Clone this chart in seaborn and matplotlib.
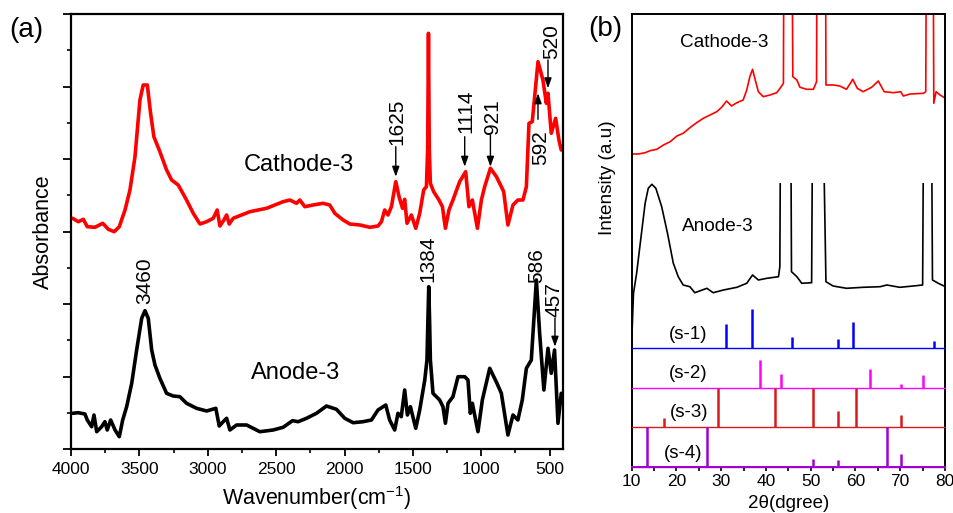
import numpy as np
import pandas as pd
import seaborn as sns
import matplotlib
matplotlib.use("Agg")
import matplotlib.pyplot as plt
from matplotlib.patches import Rectangle
from matplotlib.ticker import MultipleLocator

# ---------------- FTIR data (panel a) ----------------
ftir_cat_wn = [3988, 3947, 3910, 3881, 3825, 3768, 3727, 3684, 3647, 3605, 3569, 3532, 3496, 3472,
               3442, 3418, 3394, 3350, 3301, 3264, 3216, 3155, 3106, 3057, 3008, 2960, 2931, 2911,
               2882, 2862, 2843, 2814, 2692, 2570, 2449, 2400, 2351, 2327, 2290, 2230, 2157, 2108,
               2071, 2010, 1961, 1888, 1815, 1755, 1730, 1706, 1682, 1657, 1625, 1601, 1576, 1560,
               1543, 1511, 1479, 1450, 1421, 1401, 1392, 1386, 1380, 1372, 1348, 1309, 1284, 1262,
               1236, 1207, 1158, 1114, 1090, 1065, 1028, 999, 975, 933, 889, 853, 836, 805, 768,
               732, 695, 670, 651, 627, 585, 549, 524, 512, 488, 456, 432, 415]
ftir_cat_y = [231.0, 227.6, 230.0, 222.6, 222.0, 226.0, 220.0, 217.6, 222.6, 239.3, 259.3, 292.6, 349.3,
              364.3, 364.3, 336.0, 312.6, 297.6, 279.3, 269.3, 264.3, 249.3, 236.0, 225.3, 227.6, 231.0,
              239.3, 223.3, 229.3, 234.3, 225.3, 231.0, 237.6, 241.0, 247.6, 249.3, 246.0, 249.3, 242.6,
              244.3, 246.0, 244.3, 236.0, 229.3, 225.3, 224.3, 222.0, 223.3, 227.6, 239.3, 234.3, 242.6,
              267.6, 252.6, 241.0, 250.0, 226.0, 234.3, 221.0, 236.0, 259.3, 262.6, 300.0, 416.0, 300.0,
              266.0, 257.6, 249.3, 242.6, 221.0, 239.3, 249.3, 267.6, 277.6, 242.6, 249.3, 221.0, 249.3,
              262.6, 281.0, 272.6, 262.6, 257.6, 224.3, 244.3, 249.3, 249.3, 262.6, 326.0, 327.6, 387.6,
              369.3, 346.0, 356.0, 316.0, 331.0, 309.3, 299.3]

ftir_an_wn = [3988, 3947, 3898, 3881, 3849, 3832, 3812, 3776, 3752, 3735, 3710, 3678, 3647, 3622,
              3593, 3556, 3520, 3483, 3459, 3435, 3410, 3386, 3350, 3301, 3253, 3204, 3155, 3082,
              3008, 2941, 2916, 2887, 2862, 2838, 2789, 2716, 2619, 2522, 2449, 2380, 2339, 2278,
              2205, 2132, 2059, 1998, 1937, 1864, 1803, 1755, 1698, 1670, 1633, 1609, 1585, 1560,
              1540, 1518, 1479, 1450, 1413, 1397, 1390, 1384, 1378, 1372, 1353, 1304, 1280, 1262,
              1243, 1207, 1170, 1121, 1097, 1080, 1065, 1024, 992, 938, 885, 853, 805, 768, 732,
              700, 670, 634, 597, 573, 542, 512, 488, 464, 439, 415]
ftir_an_y = [36.0, 36.6, 35.3, 29.3, 22.6, 34.3, 17.6, 22.6, 27.6, 19.3, 29.3, 19.3, 12.6, 29.3, 42.6,
             66.0, 99.3, 131.0, 138.6, 131.0, 99.3, 84.3, 71.0, 56.0, 53.3, 52.6, 46.0, 41.0, 38.3,
             41.0, 23.3, 27.6, 31.0, 19.3, 24.3, 24.3, 17.6, 19.3, 22.0, 28.6, 27.6, 31.0, 36.0, 43.3,
             40.0, 31.0, 26.6, 27.6, 29.3, 39.3, 44.3, 29.3, 19.3, 36.0, 32.6, 59.3, 34.3, 42.6, 21.0,
             39.3, 69.3, 89.3, 130.0, 162.6, 130.0, 89.3, 56.0, 49.3, 42.6, 26.0, 46.0, 52.6, 72.6,
             72.6, 69.3, 36.0, 46.0, 17.6, 49.3, 81.0, 66.0, 56.0, 14.3, 34.3, 29.3, 49.3, 81.0, 89.3,
             169.3, 116.0, 59.3, 101.0, 76.0, 99.3, 26.0, 56.0]

# annotations: (label, text x, text y, arrow x, arrow tail y, arrow tip y)
ftir_cat_labels = ["1625", "1114", "921", "592", "520"]
ftir_cat_text_x = [1618, 1114, 921, 566, 484]
ftir_cat_text_y = [327.6, 338.5, 332.6, 301.3, 407.6]
ftir_cat_arrow_x = [1625, 1121, 933, 585, 512]
ftir_cat_arrow_from = [302.6, 312.6, 314.3, 330.0, 389.3]
ftir_cat_arrow_to = [272.6, 282.6, 282.6, 356.0, 361.0]

ftir_an_labels = ["3460", "1384", "586", "457"]
ftir_an_text_x = [3459, 1389, 597, 466]
ftir_an_text_y = [168.5, 190.8, 183.3, 150.0]
ftir_an_arrow_x = [None, None, None, 461]
ftir_an_arrow_from = [None, None, None, 131.0]
ftir_an_arrow_to = [None, None, None, 102.6]

# ---------------- XRD data (panel b) ----------------
xrd_cat_2t = [10.0, 11.5, 13.0, 14.1, 15.6, 17.1, 18.6, 20.1, 21.5, 23.0, 24.5, 26.0, 27.5, 29.0, 30.1,
              31.2, 32.3, 33.5, 34.9, 35.7, 36.4, 37.0, 37.6, 38.3, 39.4, 40.9, 42.4, 43.4, 43.9, 44.1,
              45.6, 46.0, 46.9, 47.6, 49.1, 50.6, 51.3, 51.5, 53.2, 53.4, 55.0, 56.5, 58.0, 59.4, 60.4,
              61.7, 63.6, 65.1, 66.4, 68.5, 70.1, 70.7, 72.2, 75.2, 75.7, 76.0, 77.2, 77.5, 78.0, 78.9,
              80.1]
xrd_cat_i = [312.7, 312.7, 314.0, 316.0, 317.4, 321.7, 325.0, 330.7, 333.4, 339.0, 344.0, 348.4, 351.7,
             355.0, 359.4, 365.7, 360.7, 364.0, 366.7, 376.7, 390.0, 397.4, 386.7, 375.0, 370.0, 371.7,
             374.0, 380.0, 383.4, 700.0, 700.0, 390.0, 386.7, 379.4, 377.4, 377.4, 385.0, 700.0, 700.0,
             381.7, 381.7, 380.7, 377.4, 387.4, 378.4, 375.0, 379.4, 385.7, 375.0, 374.0, 375.0, 370.7,
             372.7, 373.4, 375.0, 700.0, 700.0, 363.4, 375.0, 371.7, 368.4]

xrd_an_2t = [10.0, 10.4, 11.1, 12.0, 13.0, 13.7, 14.5, 15.4, 16.7, 18.0, 19.3, 20.4, 21.5, 23.0, 24.1,
             26.8, 28.2, 30.5, 33.5, 35.7, 37.0, 38.3, 40.2, 42.8, 43.1, 43.4, 45.4, 45.7, 46.9, 48.0,
             50.2, 50.6, 52.2, 53.4, 55.0, 58.0, 61.7, 65.5, 67.0, 69.9, 72.9, 75.0, 75.4, 76.8, 77.2,
             78.5, 80.1]
xrd_an_i = [125.0, 173.4, 193.4, 226.7, 263.4, 278.4, 282.4, 278.4, 260.0, 233.4, 203.4, 190.0, 181.7,
            180.0, 174.0, 178.4, 174.0, 176.7, 179.4, 183.4, 191.7, 186.7, 188.4, 190.0, 200.0, 500.0,
            500.0, 195.0, 190.0, 183.4, 184.0, 500.0, 500.0, 185.0, 180.7, 178.4, 179.4, 180.0, 181.7,
            179.4, 180.7, 181.7, 500.0, 500.0, 186.7, 183.4, 180.0]

# reference stick patterns: offsets and (position, height)
s1_pos = [31.07, 36.95, 45.9, 56.0, 59.45, 77.5]
s1_h = [24.3, 39.3, 11.0, 9.0, 26.0, 7.3]
s2_pos = [38.66, 43.35, 63.24, 70.1, 75.0]
s2_h = [27.7, 13.7, 18.3, 3.7, 12.3]
s3_pos = [17.2, 29.2, 42.0, 50.4, 56.2, 60.1, 70.1]
s3_h = [8.7, 39.4, 39.4, 39.4, 16.3, 39.4, 12.0]
s4_pos = [13.35, 26.9, 50.6, 56.2, 66.97, 70.1]
s4_h = [39.7, 39.7, 7.7, 6.7, 39.7, 12.7]
s_names = ["(s-1)", "(s-2)", "(s-3)", "(s-4)"]
s_offsets = [118.4, 79.0, 39.7, 0.0]

# ---------------- style ----------------
sns.set_theme(style="white")
plt.rcParams["font.family"] = ["Liberation Sans", "DejaVu Sans"]
plt.rcParams["mathtext.fontset"] = "custom"
plt.rcParams["mathtext.rm"] = "Liberation Sans"
plt.rcParams["mathtext.it"] = "Liberation Sans:italic"
for key in ["text.color", "axes.labelcolor", "xtick.color", "ytick.color", "axes.edgecolor"]:
    plt.rcParams[key] = "black"

W, H = 954, 513
fig = plt.figure(figsize=(W / 100, H / 100), dpi=100)

def frac_box(x0, y0, x1, y1):
    return [x0 / W, 1 - y1 / H, (x1 - x0) / W, (y1 - y0) / H]

axA = fig.add_axes(frac_box(71, 14, 563.3, 449.3))
axB = fig.add_axes(frac_box(631.7, 14, 945, 466.7))

# ---- panel (a) ----
df_cat = pd.DataFrame({"wn": ftir_cat_wn, "A": ftir_cat_y})
df_an = pd.DataFrame({"wn": ftir_an_wn, "A": ftir_an_y})
sns.lineplot(data=df_cat, x="wn", y="A", ax=axA, sort=False, estimator=None,
             color="#FF0000", lw=2.6)
sns.lineplot(data=df_an, x="wn", y="A", ax=axA, sort=False, estimator=None,
             color="#000000", lw=2.6)
axA.set_xlim(4000, 400)
axA.set_ylim(0, 435.3)
axA.xaxis.set_major_locator(MultipleLocator(500))
axA.xaxis.set_minor_locator(MultipleLocator(250))
axA.yaxis.set_major_locator(MultipleLocator(435.3 / 6))
axA.yaxis.set_minor_locator(MultipleLocator(435.3 / 12))
axA.set_yticklabels([])
axA.tick_params(axis="x", which="major", direction="out", length=5, width=1.3,
                labelsize=12.5, pad=4, bottom=True)
axA.tick_params(axis="x", which="minor", direction="out", length=3, width=1.2, bottom=True)
axA.tick_params(axis="y", which="major", direction="out", length=6, width=1.3, left=True)
axA.tick_params(axis="y", which="minor", direction="out", length=3, width=1.2, left=True)
for s in axA.spines.values():
    s.set_linewidth(1.6)
    s.set_color("black")
axA.set_xlabel("Wavenumber(cm$^{-1}$)", fontsize=15.5)
axA.set_ylabel("Absorbance", fontsize=15.5)
axA.xaxis.label.set_va("center")
axA.yaxis.label.set_va("center")
axA.xaxis.set_label_coords(0.5, (449.3 - 498.3) / 435.3)
axA.yaxis.set_label_coords((43.3 - 71) / 492.3, 0.5)

axA.text(2335, 284.3, "Cathode-3", fontsize=17, ha="center", va="center")
axA.text(2355, 76.0, "Anode-3", fontsize=17, ha="center", va="center")

def put_labels(ax, labels, tx, ty, ax_x, a_from, a_to):
    for lab, x, y, axx, af, at in zip(labels, tx, ty, ax_x, a_from, a_to):
        ax.text(x, y, lab, rotation=90, fontsize=15, ha="center", va="center")
        if axx is not None:
            ax.annotate("", xy=(axx, at), xytext=(axx, af),
                        arrowprops=dict(arrowstyle="-|>,head_length=0.5,head_width=0.18",
                                        color="black", lw=1.0, shrinkA=0, shrinkB=0))

put_labels(axA, ftir_cat_labels, ftir_cat_text_x, ftir_cat_text_y,
           ftir_cat_arrow_x, ftir_cat_arrow_from, ftir_cat_arrow_to)
put_labels(axA, ftir_an_labels, ftir_an_text_x, ftir_an_text_y,
           ftir_an_arrow_x, ftir_an_arrow_from, ftir_an_arrow_to)

# ---- panel (b) ----
df_xc = pd.DataFrame({"tt": xrd_cat_2t, "I": xrd_cat_i})
df_xa = pd.DataFrame({"tt": xrd_an_2t, "I": xrd_an_i})
sns.lineplot(data=df_xc, x="tt", y="I", ax=axB, sort=False, estimator=None,
             color="#FF0000", lw=1.2)
sns.lineplot(data=df_xa, x="tt", y="I", ax=axB, sort=False, estimator=None,
             color="#000000", lw=1.2)
axB.set_xlim(10, 80)
axB.set_ylim(0, 452.7)
# anode trace is clipped at its own panel top
an_line = axB.get_lines()[-1]
clip_rect = Rectangle((10, 0), 70, 283.4, transform=axB.transData, facecolor="none")
an_line.set_clip_path(clip_rect)

s_colors = ["#0000FF", "#FF00FF", "#D81A1A", "#A000D0"]
s_pos_all = [s1_pos, s2_pos, s3_pos, s4_pos]
s_h_all = [s1_h, s2_h, s3_h, s4_h]
s_label_x = [22.6, 22.7, 22.8, 21.5]
s_label_dy = [14.0, 14.4, 14.3, 13.4]
for pos, hts, off, col, name, lx, ldy in zip(s_pos_all, s_h_all, s_offsets, s_colors,
                                              s_names, s_label_x, s_label_dy):
    axB.axhline(off, color=col, lw=1.0, zorder=3, clip_on=False)
    axB.vlines(pos, off, [off + h for h in hts], color=col, lw=1.8, zorder=3)
    axB.text(lx, off + ldy, name, fontsize=13.5, ha="center", va="center")

axB.text(30.6, 424.0, "Cathode-3", fontsize=13.7, ha="center", va="center")
axB.text(29.2, 240.0, "Anode-3", fontsize=13.7, ha="center", va="center")

axB.xaxis.set_major_locator(MultipleLocator(10))
axB.xaxis.set_minor_locator(MultipleLocator(5))
axB.set_yticks([])
axB.tick_params(axis="x", which="major", direction="out", length=3, width=1.2,
                labelsize=12.5, pad=2, bottom=True)
axB.tick_params(axis="x", which="minor", direction="out", length=3, width=1.2, bottom=True)
for s in axB.spines.values():
    s.set_linewidth(1.4)
    s.set_color("black")
axB.spines["bottom"].set_color("#A000D0")
axB.set_xlabel("2\u03b8(dgree)", fontsize=13.5)
axB.set_ylabel("Intensity (a.u)", fontsize=13.7)
axB.xaxis.label.set_va("center")
axB.yaxis.label.set_va("center")
axB.xaxis.set_label_coords((788.8 - 631.7) / 313.3, (466.7 - 504) / 452.7)
axB.yaxis.set_label_coords((607.5 - 631.7) / 313.3, (466.7 - 177.5) / 452.7)

fig.text(26.3 / W, 1 - 30.3 / H, "(a)", fontsize=20, ha="center", va="center")
fig.text(605 / W, 1 - 29 / H, "(b)", fontsize=20, ha="center", va="center")

fig.savefig("out.png", dpi=100)
